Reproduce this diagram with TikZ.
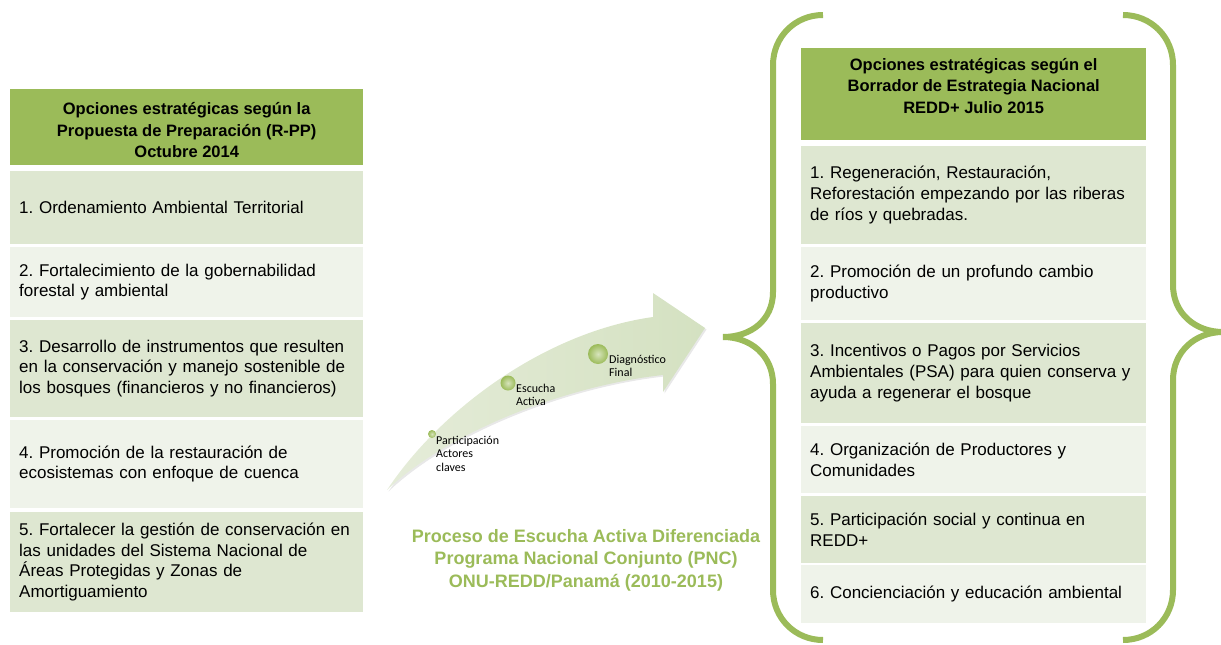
\documentclass[tikz,border=0pt]{standalone}
\usepackage{fontspec}
\setmainfont{Liberation Sans}
\newfontfamily\calibri{Carlito}
\usetikzlibrary{shadows}
\definecolor{verdeop}{RGB}{155,187,89}
\definecolor{verdefila}{RGB}{222,231,209}
\definecolor{verdeclaro}{RGB}{239,243,234}
\definecolor{flechaA}{RGB}{229,236,217}
\definecolor{flechaB}{RGB}{212,225,193}
\tikzstyle{tabla}=[
    cabecera/.style={fill=verdeop, inner sep=0pt, anchor=north west},
    cabecera texto/.style={font={\bfseries\fontsize{16.5}{21.5}\selectfont}, align=center, inner sep=0pt},
    fila/.style={anchor=west, inner xsep=9pt, inner ysep=0pt, text width=335pt, align=left,
        font={\frenchspacing\fontsize{17}{20.7}\selectfont}},
    oscura/.style={fill=verdefila},
    clara/.style={fill=verdeclaro},
    llave/.style={draw=verdeop, line width=6pt},
    flecha/.style={left color=flechaA, right color=flechaB,
        drop shadow={opacity=0.18, shadow xshift=1.5pt, shadow yshift=-1.5pt}},
    paso/.style={circle, inner sep=0pt, inner color=verdeop!40!white, outer color=verdeop},
    etiqueta paso/.style={anchor=north west, inner sep=0pt, align=left,
        font={\calibri\fontsize{12}{13.3}\selectfont}},
    titulo proceso/.style={text=verdeop, align=center, font={\bfseries\fontsize{18}{22.5}\selectfont}},
]
\newcommand{\columna}[3][]{
    \begin{scope}[#1]
    \foreach \t/\b/\s/\txt [count=\i] in {#3}{
        \node[fila,\s,minimum height={\b-\t}] (#2\i) at (0,{(\t+\b)/2}) {\txt};
    }
    \end{scope}
}

\begin{document}
\begin{tikzpicture}[tabla, x=1pt, y=-1pt]
    \useasboundingbox (0,0) rectangle (1221,645);

    % left column: R-PP 2014
    \node[cabecera, minimum width=353pt, minimum height=76pt] (lhead) at (10,89) {};
    \node[cabecera texto] (lheadtxt) at ([yshift=-3pt]lhead.center) {Opciones estratégicas según la\\Propuesta de Preparación (R-PP)\\Octubre 2014};
    \columna[xshift=10pt]{l}{171/244/oscura/{1. Ordenamiento Ambiental Territorial},
        247/317/clara/{2. Fortalecimiento de la gobernabilidad\\forestal y ambiental},
        320/417/oscura/{3. Desarrollo de instrumentos que resulten\\en la conservación y manejo sostenible de\\los bosques (financieros y no financieros)},
        420/508/clara/{4. Promoción de la restauración de\\ecosistemas con enfoque de cuenca},
        512/612/oscura/{5. Fortalecer la gestión de conservación en\\las unidades del Sistema Nacional de\\Áreas Protegidas y Zonas de\\Amortiguamiento}}

    % right column: borrador 2015
    \node[cabecera, minimum width=345pt, minimum height=92pt] (rhead) at (801,48) {};
    \node[cabecera texto, anchor=north] (rheadtxt) at ([yshift=-10pt]rhead.north) {Opciones estratégicas según el\\Borrador de Estrategia Nacional\\REDD+ Julio 2015};
    \columna[xshift=801pt, fila/.append style={text width=327pt, inner xsep=9pt}]{r}{146/244/oscura/{1. Regeneración, Restauración,\\Reforestación empezando por las riberas\\de ríos y quebradas.},
        247/320/clara/{2. Promoción de un profundo cambio\\productivo},
        323/423/oscura/{3. Incentivos o Pagos por Servicios\\Ambientales (PSA) para quien conserva y\\ayuda a regenerar el bosque},
        426/493/clara/{4. Organización de Productores y\\Comunidades},
        496/563/oscura/{5. Participación social y continua en\\REDD+},
        565/623/clara/{6. Concienciación y educación ambiental}}

    % braces
    \draw[llave] (823,15) .. controls (795,15) and (773,37) .. (773,65) -- (773,292)
        .. controls (773,320) and (751,337) .. (723,337)
        .. controls (751,337) and (773,356) .. (773,384) -- (773,590)
        .. controls (773,618) and (795,640) .. (823,640);
    \draw[llave] (1123,15) .. controls (1151,15) and (1173,37) .. (1173,65) -- (1173,285)
        .. controls (1173,313) and (1195,332) .. (1223,332)
        .. controls (1195,332) and (1173,352) .. (1173,380) -- (1173,590)
        .. controls (1173,618) and (1151,640) .. (1123,640);

    % curved arrow
    \path[flecha] (387,490) .. controls (440,410) and (545,332) .. (653,317)
        -- (653,293) -- (705,328) -- (663,392) -- (663,375)
        .. controls (570,385) and (450,430) .. (387,490) -- cycle;

    \node[paso, minimum size=8pt] (p1) at (432,434) {};
    \node[paso, minimum size=15pt] (p2) at (508,383) {};
    \node[paso, minimum size=20pt] (p3) at (598,354) {};
    \node[etiqueta paso] (p1txt) at (436,436) {Participación\\Actores\\claves};
    \node[etiqueta paso] (p2txt) at (516,384) {Escucha\\Activa};
    \node[etiqueta paso] (p3txt) at (609,355) {Diagnóstico\\Final};

    \node[titulo proceso] (pnc) at (586,560) {Proceso de Escucha Activa Diferenciada\\Programa Nacional Conjunto (PNC)\\ONU-REDD/Panamá (2010-2015)};
\end{tikzpicture}
\end{document}
